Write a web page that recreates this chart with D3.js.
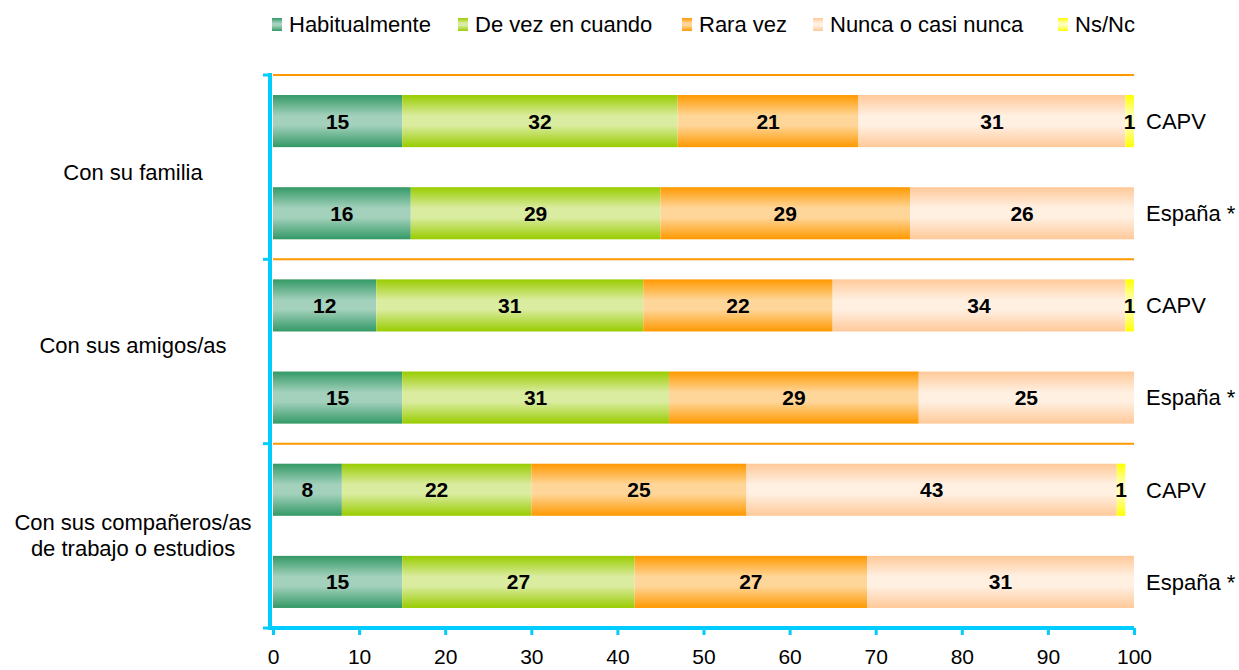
<!DOCTYPE html>
<html><head><meta charset="utf-8">
<script src="https://cdn.jsdelivr.net/npm/d3@7"></script>
<style>
body{margin:0;background:#fff;}
text{font-family:Arial,"Liberation Sans",sans-serif;}
</style></head>
<body><svg id="chart" width="1239" height="670"></svg>
<script>
const categories = ["Con su familia", "Con sus amigos/as", "Con sus compañeros/as|de trabajo o estudios"];
const regions = ["CAPV", "España *"];
const seriesNames = ["Habitualmente", "De vez en cuando", "Rara vez", "Nunca o casi nunca", "Ns/Nc"];
// rows: familia CAPV, familia España, amigos CAPV, amigos España, compañeros CAPV, compañeros España
const habitualmente = [15, 16, 12, 15, 8, 15];
const deVezEnCuando = [32, 29, 31, 31, 22, 27];
const raraVez = [21, 29, 22, 29, 25, 27];
const nuncaCasiNunca = [31, 26, 34, 25, 43, 31];
const nsnc = [1, 0, 1, 0, 1, 0];
const xTicks = [0, 10, 20, 30, 40, 50, 60, 70, 80, 90, 100];

const seriesValues = [habitualmente, deVezEnCuando, raraVez, nuncaCasiNunca, nsnc];
const colors = [
  ["#339966", "#a3d1bc"],
  ["#99cc00", "#daeca0"],
  ["#ff9900", "#ffd699"],
  ["#ffc999", "#fff0e2"],
  ["#ffff00", "#ffffb8"]
];

const svg = d3.select("#chart");
const defs = svg.append("defs");
colors.forEach((c, i) => {
  const g = defs.append("linearGradient").attr("id", "g" + i)
    .attr("x1", 0).attr("y1", 0).attr("x2", 0).attr("y2", 1);
  g.append("stop").attr("offset", "0%").attr("stop-color", c[0]);
  g.append("stop").attr("offset", "40%").attr("stop-color", c[1]);
  g.append("stop").attr("offset", "58%").attr("stop-color", c[1]);
  g.append("stop").attr("offset", "100%").attr("stop-color", c[0]);
});

const x = d3.scaleLinear().domain([0, 100]).range([273, 1134]);
const yGroup = d3.scaleBand().domain(categories).range([75, 628]);
const yInner = d3.scaleBand().domain(regions).range([0, yGroup.bandwidth()])
  .paddingInner(40 / 92).paddingOuter(20 / 92);

const rows = [];
categories.forEach((cat, ci) => {
  regions.forEach((reg, ri) => {
    const idx = ci * 2 + ri;
    let cum = 0;
    const segs = seriesValues.map((arr, si) => {
      const v = arr[idx];
      const s = {si, v, x0: cum, x1: cum + v};
      cum += v;
      return s;
    });
    rows.push({cat, reg, y: yGroup(cat) + yInner(reg), segs});
  });
});

// orange separators
svg.append("g").selectAll("line").data(categories).join("line")
  .attr("x1", x(0)).attr("x2", x(100))
  .attr("y1", d => yGroup(d)).attr("y2", d => yGroup(d))
  .attr("stroke", "#ff9900").attr("stroke-width", 2);

const bh = yInner.bandwidth();
const rowG = svg.append("g").selectAll("g").data(rows).join("g")
  .attr("transform", d => `translate(0,${d.y})`);
rowG.selectAll("rect").data(d => d.segs.filter(s => s.v > 0)).join("rect")
  .attr("x", s => x(s.x0)).attr("width", s => x(s.x1) - x(s.x0))
  .attr("y", 0).attr("height", bh)
  .attr("fill", s => `url(#g${s.si})`);
rowG.selectAll("text.val").data(d => d.segs.filter(s => s.v > 0)).join("text")
  .attr("class", "val")
  .attr("x", s => (x(s.x0) + x(s.x1)) / 2).attr("y", bh / 2)
  .attr("dy", "0.36em").attr("text-anchor", "middle")
  .attr("font-size", 21).attr("font-weight", "bold").attr("fill", "#000")
  .text(s => s.v);
rowG.append("text")
  .attr("x", 1146).attr("y", bh / 2).attr("dy", "0.36em")
  .attr("font-size", 22).attr("fill", "#000")
  .text(d => d.reg);

// category labels (small vertical offsets as in the original)
const catOffset = [5, -6, -1];
svg.append("g").selectAll("text").data(categories).join("text")
  .attr("text-anchor", "middle").attr("font-size", 22).attr("fill", "#000")
  .attr("transform", (d, i) => `translate(133,${yGroup(d) + yGroup.bandwidth() / 2 + catOffset[i]})`)
  .each(function(d) {
    const lines = d.split("|");
    const t = d3.select(this);
    lines.forEach((l, i) => {
      t.append("tspan").attr("x", 0)
        .attr("dy", i === 0 ? ((0.36 - (lines.length - 1) * 0.6) + "em") : "1.2em")
        .text(l);
    });
  });

// axes
const blue = "#00ccff";
const xAxis = svg.append("g").attr("transform", "translate(0,628)")
  .call(d3.axisBottom(x).tickValues(xTicks).tickSize(7).tickSizeOuter(0).tickPadding(14));
xAxis.select(".domain").attr("stroke", blue).attr("stroke-width", 4).attr("d", `M${x(0)-3},0H${x(100)}`);
xAxis.selectAll(".tick line").attr("stroke", blue).attr("stroke-width", 3);
xAxis.selectAll(".tick text").attr("font-size", 21).attr("fill", "#000")
  .attr("font-family", "Arial, 'Liberation Sans', sans-serif");

const yAxis = svg.append("g").attr("transform", `translate(${x(0) - 3},0)`);
yAxis.append("line").attr("x1", 0).attr("x2", 0).attr("y1", 73).attr("y2", 630)
  .attr("stroke", blue).attr("stroke-width", 4);
const bounds = categories.map(c => yGroup(c)).concat([yGroup(categories[2]) + yGroup.bandwidth()]);
yAxis.selectAll("line.tk").data(bounds).join("line").attr("class", "tk")
  .attr("x1", -7).attr("x2", 0).attr("y1", d => d).attr("y2", d => d)
  .attr("stroke", blue).attr("stroke-width", 3);

// legend
const legendX = [272, 458, 682, 813, 1058];
const lg = svg.append("g").selectAll("g").data(seriesNames).join("g")
  .attr("transform", (d, i) => `translate(${legendX[i]},18)`);
lg.append("rect").attr("width", 10).attr("height", 13)
  .attr("fill", (d, i) => `url(#g${i})`);
lg.append("text").attr("x", 17).attr("y", 6.5).attr("dy", "0.36em")
  .attr("font-size", 22).attr("fill", "#000").text(d => d);
</script></body></html>
